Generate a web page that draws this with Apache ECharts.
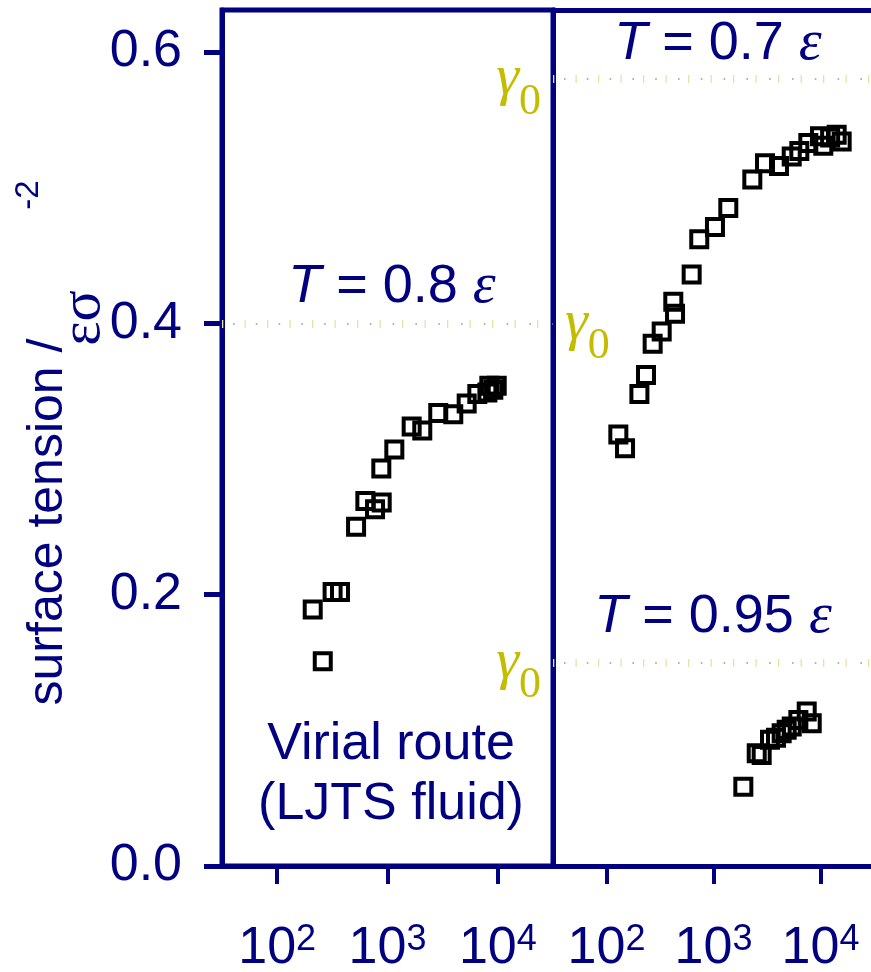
<!DOCTYPE html>
<html>
<head>
<meta charset="utf-8">
<script src="https://cdn.jsdelivr.net/npm/echarts@6/dist/echarts.min.js"></script>
<style>
  html, body { margin: 0; padding: 0; background: #fff; }
  #chart { width: 871px; height: 972px; }
</style>
</head>
<body>
<div id="chart"></div>
<script>
// Surface tension vs. system size, virial route, LJTS fluid
const NAVY = '#000080';
const GAMMA_COLOR = '#c4bc00';
const SANS = '"Liberation Sans", Arial, sans-serif';
const SERIF = '"Liberation Serif", "Times New Roman", serif';

// T = 0.8 ε (left panel)
const sizeT08 = [259, 210, 318, 371, 519, 630, 771, 886, 879, 1153, 1656, 2066, 2884, 3945, 5220, 6517, 8374, 9770, 8040, 9100];
const gammaT08 = [0.151, 0.189, 0.202, 0.202, 0.250, 0.269, 0.263, 0.268, 0.293, 0.307, 0.324, 0.321, 0.334, 0.333, 0.341, 0.348, 0.354, 0.354, 0.349, 0.351];

// T = 0.7 ε (right panel, upper)
const sizeT07 = [129, 149, 203, 234, 270, 328, 421, 437, 625, 736, 1032, 1375, 2306, 3030, 4093, 5383, 6339, 7693, 9888, 10620, 12300, 14160, 15770];
const gammaT07 = [0.318, 0.308, 0.348, 0.362, 0.385, 0.394, 0.416, 0.407, 0.436, 0.462, 0.471, 0.485, 0.506, 0.518, 0.516, 0.523, 0.527, 0.533, 0.538, 0.531, 0.537, 0.539, 0.534];

// T = 0.95 ε (right panel, lower)
const sizeT095 = [1900, 2535, 2820, 3373, 3837, 4336, 4828, 5383, 6208, 7432, 8279];
const gammaT095 = [0.0585, 0.0832, 0.0819, 0.0930, 0.0945, 0.0979, 0.1004, 0.1028, 0.1077, 0.1139, 0.1053];

// Macroscopic surface tension γ0 at each temperature
const gamma0T08 = 0.401;
const gamma0T07 = 0.580;
const gamma0T095 = 0.1545;

const xTicks = [100, 1000, 10000];
const yTicks = [0, 0.2, 0.4, 0.6];
const X_MIN = Math.pow(10, 1.5);
const X_MAX = Math.pow(10, 4.5);
const Y_MAX = 0.631;

const zip = (xs, ys) => xs.map((x, i) => [x, ys[i]]);

function xAxisFor(gridIndex) {
  return {
    type: 'log', gridIndex, min: X_MIN, max: X_MAX, logBase: 10,
    axisLine: { show: true, lineStyle: { color: NAVY, width: 5 } },
    axisTick: { show: true, customValues: xTicks, length: 18, lineStyle: { color: NAVY, width: 4 } },
    minorTick: { show: false },
    splitLine: { show: false },
    axisLabel: {
      customValues: xTicks, margin: 56, color: NAVY,
      formatter: v => '{b|10}{s|' + Math.round(Math.log10(v)) + '}',
      rich: {
        b: { fontSize: 52, fontFamily: SANS, color: NAVY, lineHeight: 54 },
        s: { fontSize: 36, fontFamily: SANS, color: NAVY, verticalAlign: 'top', lineHeight: 54, padding: [0, 0, 16, 0] }
      }
    }
  };
}

// top edge of the right panel (its right edge lies beyond the page)
function topEdgeFor(gridIndex) {
  return {
    type: 'log', gridIndex, min: X_MIN, max: X_MAX, position: 'top',
    axisLine: { show: true, lineStyle: { color: NAVY, width: 5 } },
    axisTick: { show: false }, axisLabel: { show: false },
    minorTick: { show: false }, splitLine: { show: false }
  };
}

function yAxisFor(gridIndex, withLabels) {
  return {
    type: 'value', gridIndex, min: 0, max: Y_MAX,
    axisLine: { show: true, lineStyle: { color: NAVY, width: 5 } },
    axisTick: { show: withLabels, customValues: yTicks, length: 18, lineStyle: { color: NAVY, width: 5 } },
    splitLine: { show: false },
    axisLabel: {
      show: withLabels, customValues: yTicks, margin: 40, color: NAVY,
      fontSize: 52, fontFamily: SANS,
      formatter: v => v.toFixed(1)
    }
  };
}

const squareStyle = {
  color: 'rgba(0,0,0,0)', borderColor: '#000', borderWidth: 4, opacity: 1
};

// γ0 reference line: faint yellow tick pattern, labelled with γ0
function gammaLine(value, labelPos) {
  return {
    silent: true, symbol: ['none', 'none'], animation: false,
    lineStyle: { color: '#e6e2a6', width: 8, type: [1.3, 21.2], opacity: 1 },
    label: {
      show: true, position: labelPos, distance: 12,
      formatter: '{g|γ}{z|0}',
      rich: {
        g: { fontSize: 58, fontFamily: SERIF, fontStyle: 'italic', color: GAMMA_COLOR },
        z: { fontSize: 44, fontFamily: SERIF, color: GAMMA_COLOR, verticalAlign: 'bottom', padding: [0, 0, -16, 0] }
      }
    },
    emphasis: { disabled: true },
    data: [{ yAxis: value }]
  };
}

// small grey dots between the yellow ticks
function dotLine(value) {
  return {
    silent: true, symbol: ['none', 'none'], animation: false,
    lineStyle: { color: '#9a9a8a', width: 1.6, type: [1.6, 21.2], dashOffset: -11 },
    label: { show: false },
    emphasis: { disabled: true },
    data: [{ yAxis: value }]
  };
}

function panelTitle(text, x, y) {
  return {
    type: 'text', x, y, silent: true,
    style: {
      text, fill: NAVY, fontSize: 54, fontFamily: SANS,
      align: 'center', verticalAlign: 'middle',
      rich: {
        t: { fontSize: 54, fontFamily: SANS, fontStyle: 'italic', fill: NAVY },
        e: { fontSize: 58, fontFamily: SERIF, fontStyle: 'italic', fill: NAVY }
      }
    }
  };
}

const chart = echarts.init(document.getElementById('chart'), null, { renderer: 'canvas' });

const option = {
  animation: false,
  backgroundColor: '#fff',
  grid: [
    { left: 222, top: 10, width: 331, height: 856, outerBoundsMode: 'none', containLabel: false,
      show: true, borderColor: NAVY, borderWidth: 5, backgroundColor: 'transparent' },
    { left: 553, top: 10, width: 321, height: 856, outerBoundsMode: 'none', containLabel: false, show: false }
  ],
  xAxis: [xAxisFor(0), xAxisFor(1), topEdgeFor(1)],
  yAxis: [yAxisFor(0, true), yAxisFor(1, false)],
  series: [
    {
      type: 'line', xAxisIndex: 0, yAxisIndex: 0, data: [], silent: true,
      markLine: dotLine(gamma0T08)
    },
    {
      type: 'scatter', xAxisIndex: 0, yAxisIndex: 0,
      symbol: 'rect', symbolSize: 16, itemStyle: squareStyle,
      data: zip(sizeT08, gammaT08),
      markLine: gammaLine(gamma0T08, 'end')
    },
    {
      type: 'line', xAxisIndex: 1, yAxisIndex: 1, data: [], silent: true,
      markLine: dotLine(gamma0T07)
    },
    {
      type: 'scatter', xAxisIndex: 1, yAxisIndex: 1,
      symbol: 'rect', symbolSize: 16, itemStyle: squareStyle,
      data: zip(sizeT07, gammaT07),
      markLine: gammaLine(gamma0T07, 'start')
    },
    {
      type: 'line', xAxisIndex: 1, yAxisIndex: 1, data: [], silent: true,
      markLine: dotLine(gamma0T095)
    },
    {
      type: 'scatter', xAxisIndex: 1, yAxisIndex: 1,
      symbol: 'rect', symbolSize: 16, itemStyle: squareStyle,
      data: zip(sizeT095, gammaT095),
      markLine: gammaLine(gamma0T095, 'start')
    }
  ],
  graphic: [
    panelTitle('{t|T} = 0.8 {e|ε}', 392, 287),
    panelTitle('{t|T} = 0.7 {e|ε}', 718, 44),
    panelTitle('{t|T} = 0.95 {e|ε}', 713, 617),
    {
      type: 'text', x: 391, y: 745, silent: true,
      style: { text: 'Virial route', fill: NAVY, fontSize: 52, fontFamily: SANS, align: 'center', verticalAlign: 'middle' }
    },
    {
      type: 'text', x: 391, y: 805, silent: true,
      style: { text: '(LJTS fluid)', fill: NAVY, fontSize: 52, fontFamily: SANS, align: 'center', verticalAlign: 'middle' }
    },
    // y-axis title, written bottom to top
    {
      type: 'text', x: 48, y: 522, rotation: Math.PI / 2, silent: true,
      style: { text: 'surface tension /', fill: NAVY, fontSize: 50, fontFamily: SANS, align: 'center', verticalAlign: 'middle' }
    },
    {
      type: 'text', x: 84, y: 318, rotation: Math.PI / 2, silent: true,
      style: { text: 'εσ', fill: NAVY, fontSize: 58, fontFamily: SERIF, align: 'center', verticalAlign: 'middle' }
    },
    {
      type: 'text', x: 29, y: 195, rotation: Math.PI / 2, silent: true,
      style: { text: '-2', fill: NAVY, fontSize: 33, fontFamily: SANS, align: 'center', verticalAlign: 'middle' }
    }
  ]
};

chart.setOption(option);
</script>
</body>
</html>
